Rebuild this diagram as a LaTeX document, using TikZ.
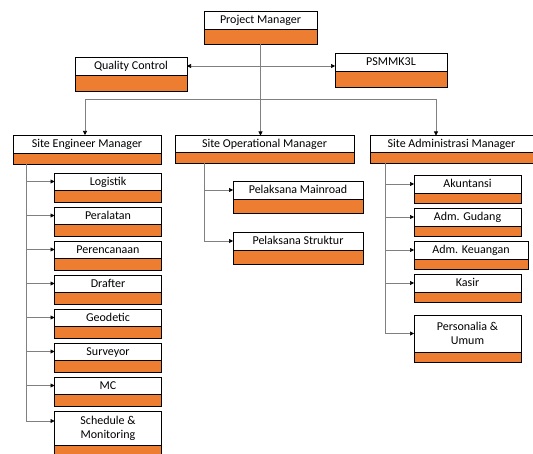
\documentclass[tikz,border=0pt]{standalone}
\usepackage{fontspec}
\setmainfont{Carlito}
\usetikzlibrary{positioning, arrows.meta}
\definecolor{boxorange}{HTML}{ED7D31}
\tikzstyle{unithead} = [rectangle, 
draw=black, 
line width=0.8pt, 
outer sep=0pt, 
fill=white, 
inner sep=1pt, 
text centered, 
align=center, 
text depth=0.5pt, 
font=\fontsize{12}{14}\selectfont]
\tikzstyle{orangebar} = [rectangle, 
draw=black, 
line width=0.8pt, 
outer sep=0pt, 
inner sep=0pt, 
fill=boxorange]
\tikzstyle{link} = [draw=gray, line width=0.6pt]
\tikzstyle{arrow} = [link, -{Triangle[black, length=4pt, width=4pt]}]
\tikzstyle{biarrow} = [link, {Triangle[black, length=4pt, width=4pt]}-{Triangle[black, length=4pt, width=4pt]}]

\begin{document}
\begin{tikzpicture}[x=1pt, y=1pt]
\useasboundingbox (0,0) rectangle (533,454);
\clip (0,0) rectangle (533,454);

% top level
\node (pm) [unithead, minimum width=113pt, minimum height=18pt] at (260.5,434) {Project Manager};
\node (pmbar) [orangebar, minimum width=113pt, minimum height=15pt, below=0pt of pm] {};
\node (qc) [unithead, minimum width=112pt, minimum height=18pt] at (131,388) {Quality Control};
\node (qcbar) [orangebar, minimum width=112pt, minimum height=16pt, below=0pt of qc] {};
\node (psm) [unithead, minimum width=112pt, minimum height=18pt] at (391,392) {PSMMK3L};
\node (psmbar) [orangebar, minimum width=112pt, minimum height=16pt, below=0pt of psm] {};

% site managers
\node (sem) [unithead, minimum width=148pt, minimum height=18pt] at (87,310) {Site Engineer Manager};
\node (sembar) [orangebar, minimum width=148pt, minimum height=11pt, below=0pt of sem] {};
\node (som) [unithead, minimum width=179pt, minimum height=17pt] at (264.5,310) {Site Operational Manager};
\node (sombar) [orangebar, minimum width=179pt, minimum height=11pt, below=0pt of som] {};
\node (sam) [unithead, minimum width=163pt, minimum height=17pt] at (451.5,310) {Site Administrasi Manager};
\node (sambar) [orangebar, minimum width=163pt, minimum height=11pt, below=0pt of sam] {};

% engineer staff
\node (log) [unithead, minimum width=107pt, minimum height=17pt] at (108,272.5) {Logistik};
\node (logbar) [orangebar, minimum width=107pt, minimum height=12pt, below=0pt of log] {};
\node (per) [unithead, minimum width=107pt, minimum height=17pt, below=5pt of logbar] {Peralatan};
\node (perbar) [orangebar, minimum width=107pt, minimum height=12pt, below=0pt of per] {};
\node (ren) [unithead, minimum width=107pt, minimum height=17pt, below=5pt of perbar] {Perencanaan};
\node (renbar) [orangebar, minimum width=107pt, minimum height=12pt, below=0pt of ren] {};
\node (dra) [unithead, minimum width=107pt, minimum height=17pt, below=5pt of renbar] {Drafter};
\node (drabar) [orangebar, minimum width=107pt, minimum height=12pt, below=0pt of dra] {};
\node (geo) [unithead, minimum width=107pt, minimum height=17pt, below=5pt of drabar] {Geodetic};
\node (geobar) [orangebar, minimum width=107pt, minimum height=12pt, below=0pt of geo] {};
\node (sur) [unithead, minimum width=107pt, minimum height=17pt, below=5pt of geobar] {Surveyor};
\node (surbar) [orangebar, minimum width=107pt, minimum height=12pt, below=0pt of sur] {};
\node (mc) [unithead, minimum width=107pt, minimum height=17pt, below=5pt of surbar] {MC};
\node (mcbar) [orangebar, minimum width=107pt, minimum height=12pt, below=0pt of mc] {};
\node (sch) [unithead, minimum width=107pt, minimum height=34pt, below=5pt of mcbar] {Schedule \&\\Monitoring};
\node (schbar) [orangebar, minimum width=107pt, minimum height=12pt, below=0pt of sch] {};

% operational staff
\node (main) [unithead, minimum width=130pt, minimum height=18pt] at (298,264) {Pelaksana Mainroad};
\node (mainbar) [orangebar, minimum width=130pt, minimum height=14pt, below=0pt of main] {};
\node (str) [unithead, minimum width=130pt, minimum height=18pt, below=19pt of mainbar] {Pelaksana Struktur};
\node (strbar) [orangebar, minimum width=130pt, minimum height=14pt, below=0pt of str] {};

% administration staff
\node (aku) [unithead, minimum width=107pt, minimum height=18pt] at (467.5,270) {Akuntansi};
\node (akubar) [orangebar, minimum width=107pt, minimum height=10pt, below=0pt of aku] {};
\node (gud) [unithead, minimum width=107pt, minimum height=18pt, below=5pt of akubar] {Adm. Gudang};
\node (gudbar) [orangebar, minimum width=107pt, minimum height=10pt, below=0pt of gud] {};
\node (keu) [unithead, minimum width=114pt, minimum height=18pt, below=5pt of gudbar, xshift=3.5pt] {Adm. Keuangan};
\node (keubar) [orangebar, minimum width=114pt, minimum height=10pt, below=0pt of keu] {};
\node (kas) [unithead, minimum width=107pt, minimum height=18pt, below=5pt of keubar, xshift=-3.5pt] {Kasir};
\node (kasbar) [orangebar, minimum width=107pt, minimum height=10pt, below=0pt of kas] {};
\node (pers) [unithead, minimum width=107pt, minimum height=37pt, below=13pt of kasbar] {Personalia \&\\Umum};
\node (persbar) [orangebar, minimum width=107pt, minimum height=10pt, below=0pt of pers] {};

% connectors
\coordinate (busleft) at (85,355);
\coordinate (busright) at (436,355);
\draw [arrow] (pmbar.south) -- (pmbar.south |- som.north);
\draw [biarrow] (qc.east) -- (qc.east -| psm.west);
\draw [link] (busleft) -- (busright);
\draw [arrow] (busleft) -- (busleft |- sem.north);
\draw [arrow] (busright) -- (busright |- sam.north);

\coordinate (semroot) at ([xshift=13pt]sembar.south west);
\coordinate (somroot) at ([xshift=29pt]sombar.south west);
\coordinate (samroot) at ([xshift=15pt]sambar.south west);
\draw [arrow] (semroot) |- (log.west);
\draw [arrow] (semroot) |- (per.west);
\draw [arrow] (semroot) |- (ren.west);
\draw [arrow] (semroot) |- (dra.west);
\draw [arrow] (semroot) |- (geo.west);
\draw [arrow] (semroot) |- (sur.west);
\draw [arrow] (semroot) |- (mc.west);
\draw [arrow] (semroot) |- ([yshift=7pt]sch.west);
\draw [arrow] (somroot) |- (main.west);
\draw [arrow] (somroot) |- (str.west);
\draw [arrow] (samroot) |- (aku.west);
\draw [arrow] (samroot) |- (gud.west);
\draw [arrow] (samroot) |- (keu.west);
\draw [arrow] (samroot) |- (kas.west);
\draw [arrow] (samroot) |- (pers.west);

\end{tikzpicture}
\end{document}
